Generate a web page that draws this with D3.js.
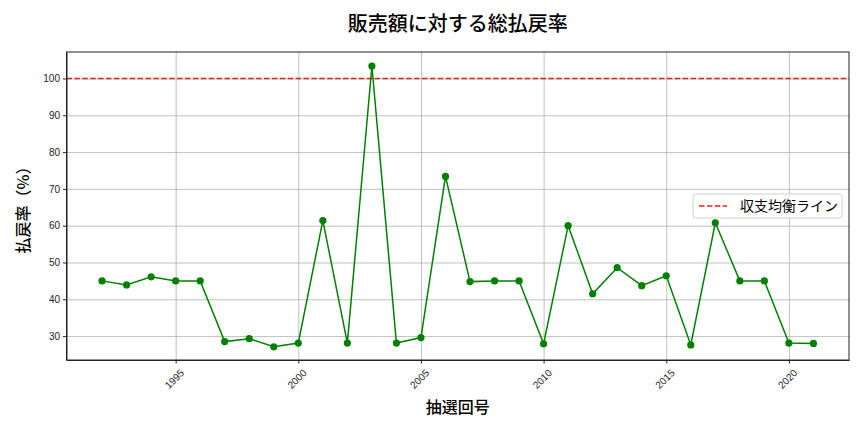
<!DOCTYPE html>
<html>
<head>
<meta charset="utf-8">
<script src="https://cdn.jsdelivr.net/npm/d3@7"></script>
<style>
body { margin: 0; background: #fff; }
svg { display: block; font-family: "Noto Sans CJK JP", "DejaVu Sans", sans-serif; }
.grid line { stroke: #b0b0b0; stroke-width: 0.8; }
.grid path { display: none; }
.axis path, .axis line { stroke: #222; }
.axis text { font-size: 10px; fill: #222; }
</style>
</head>
<body>
<script>
var years = [1992, 1993, 1994, 1995, 1996, 1997, 1998, 1999, 2000, 2001,
	2002, 2003, 2004, 2005, 2006, 2007, 2008, 2009, 2010, 2011,
	2012, 2013, 2014, 2015, 2016, 2017, 2018, 2019, 2020, 2021];
var rates = [45.0, 43.9, 46.1, 45.0, 45.0, 28.5, 29.3, 27.1, 28.1, 61.4,
	28.1, 103.4, 28.1, 29.6, 73.4, 44.8, 45.0, 45.0, 27.9, 60.0,
	41.5, 48.6, 43.7, 46.4, 27.6, 60.8, 45.0, 45.0, 28.1, 28.0];
var xTicks = [1995, 2000, 2005, 2010, 2015, 2020];
var yTicks = [30, 40, 50, 60, 70, 80, 90, 100];
var breakEven = 100;
var titleText = "販売額に対する総払戻率";
var xLabel = "抽選回号";
var yLabel = "払戻率（%）";
var legendLabel = "収支均衡ライン";

var W = 864, H = 432;
var m = {left: 66.5, right: 15, top: 52, bottom: 72};

var svg = d3.select("body").append("svg")
	.attr("width", W)
	.attr("height", H);

var x = d3.scaleLinear()
	.domain([1990.55, 2022.45])
	.range([m.left, W - m.right]);
var y = d3.scaleLinear()
	.domain([23.5, 107.2])
	.range([H - m.bottom, m.top]);

// grid
svg.append("g")
	.attr("class", "grid")
	.attr("transform", "translate(0," + (H - m.bottom) + ")")
	.call(d3.axisBottom(x).tickValues(xTicks).tickSize(-(H - m.bottom - m.top)).tickFormat(""));
svg.append("g")
	.attr("class", "grid")
	.attr("transform", "translate(" + m.left + ",0)")
	.call(d3.axisLeft(y).tickValues(yTicks).tickSize(-(W - m.right - m.left)).tickFormat(""));

// break-even line
svg.append("line")
	.attr("x1", x.range()[0])
	.attr("x2", x.range()[1])
	.attr("y1", y(breakEven))
	.attr("y2", y(breakEven))
	.attr("stroke", "#e0201b")
	.attr("stroke-width", 1.5)
	.attr("stroke-dasharray", "5.5,2.4");

// series
var line = d3.line()
	.x(function(d, i) { return x(years[i]); })
	.y(function(d) { return y(d); });

svg.append("path")
	.datum(rates)
	.attr("fill", "none")
	.attr("stroke", "green")
	.attr("stroke-width", 1.5)
	.attr("d", line);

svg.selectAll(".dot")
	.data(rates)
	.enter().append("circle")
	.attr("class", "dot")
	.attr("cx", function(d, i) { return x(years[i]); })
	.attr("cy", function(d) { return y(d); })
	.attr("r", 3.6)
	.attr("fill", "green");

// axes
var xa = svg.append("g")
	.attr("class", "axis")
	.attr("transform", "translate(0," + (H - m.bottom) + ")")
	.call(d3.axisBottom(x).tickValues(xTicks).tickFormat(d3.format("d")).tickSize(3.5).tickSizeOuter(0));
xa.selectAll("text")
	.attr("text-anchor", "end")
	.attr("dy", 0)
	.attr("transform", "translate(4,9) rotate(-45)");

svg.append("g")
	.attr("class", "axis")
	.attr("transform", "translate(" + m.left + ",0)")
	.call(d3.axisLeft(y).tickValues(yTicks).tickSize(3.5).tickSizeOuter(0));

// frame
svg.append("rect")
	.attr("x", m.left)
	.attr("y", m.top)
	.attr("width", W - m.right - m.left)
	.attr("height", H - m.bottom - m.top)
	.attr("fill", "none")
	.attr("stroke", "#222")
	.attr("stroke-width", 1);

// texts
svg.append("text")
	.attr("x", (m.left + W - m.right) / 2)
	.attr("y", 31)
	.attr("text-anchor", "middle")
	.style("font-size", "20px")
	.style("font-weight", 500)
	.text(titleText);

svg.append("text")
	.attr("x", (m.left + W - m.right) / 2)
	.attr("y", 413)
	.attr("text-anchor", "middle")
	.style("font-size", "16px")
	.style("font-weight", 500)
	.text(xLabel);

svg.append("text")
	.attr("transform", "translate(29," + ((m.top + H - m.bottom) / 2) + ") rotate(-90)")
	.attr("text-anchor", "middle")
	.style("font-size", "16px")
	.style("font-weight", 500)
	.text(yLabel);

// legend
var lg = svg.append("g").attr("transform", "translate(693,194)");
lg.append("rect")
	.attr("width", 149)
	.attr("height", 24)
	.attr("rx", 3)
	.attr("fill", "#fff")
	.attr("fill-opacity", 0.8)
	.attr("stroke", "#d0d0d0");
lg.append("line")
	.attr("x1", 6).attr("x2", 34)
	.attr("y1", 12).attr("y2", 12)
	.attr("stroke", "#e0201b")
	.attr("stroke-width", 1.5)
	.attr("stroke-dasharray", "5.5,2.4");
lg.append("text")
	.attr("x", 47)
	.attr("y", 17)
	.style("font-size", "14px")
	.text(legendLabel);
</script>
</body>
</html>
